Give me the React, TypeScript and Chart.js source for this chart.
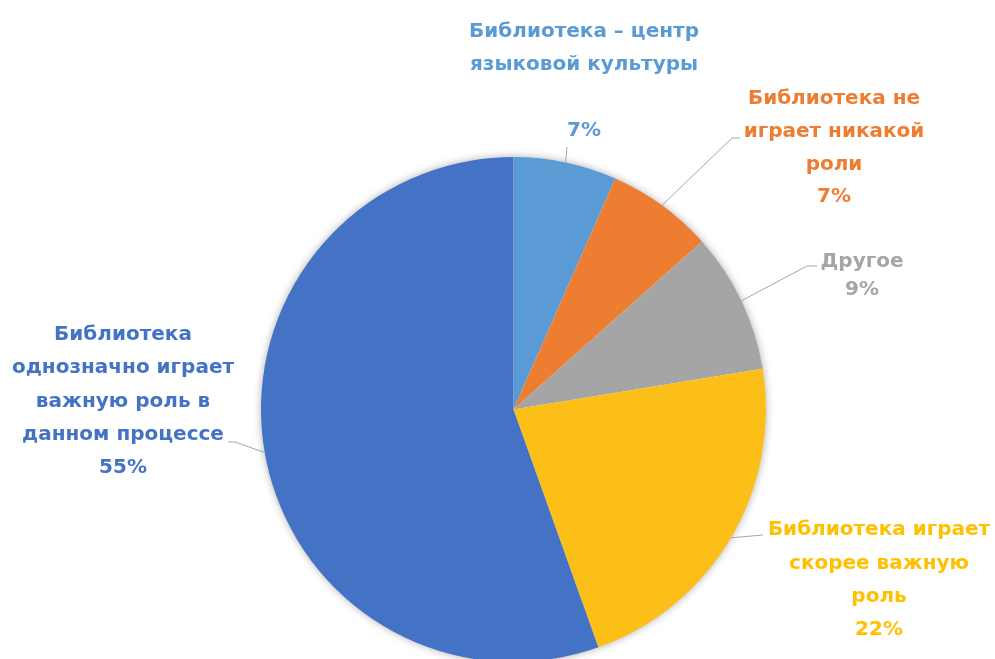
import React, { useEffect, useRef } from "react";
import { Chart, registerables } from "chart.js";

Chart.register(...registerables);

const categories: string[] = [
  "Библиотека – центр языковой культуры",
  "Библиотека не играет никакой роли",
  "Другое",
  "Библиотека играет скорее важную роль",
  "Библиотека однозначно играет важную роль в данном процессе",
];

// share of answers, %
const shares: number[] = [6.6, 6.8, 9.0, 22.1, 55.4];

const sliceColors: string[] = ["#5B9BD5", "#ED7D31", "#A5A5A5", "#FCBF17", "#4472C4"];
const textColors: string[] = ["#5B9BD5", "#ED7D31", "#A5A5A5", "#FFC000", "#4472C4"];

// wrapped category text for each label
const labelLines: string[][] = [
  ["Библиотека – центр", "языковой культуры", ""],
  ["Библиотека не", "играет никакой", "роли"],
  ["Другое"],
  ["Библиотека играет", "скорее важную", "роль"],
  ["Библиотека", "однозначно играет", "важную роль в", "данном процессе"],
];

// label layout (pixels): block centre x, first line y, line gap, leader waypoints
const labelLayout = [
  { cx: 584, y0: 32, gap: 33, leader: [[567, 147]] },
  { cx: 834, y0: 99, gap: 32.7, leader: [[732, 138], [740, 138]] },
  { cx: 862, y0: 262, gap: 28, leader: [[807, 266], [817, 266]] },
  { cx: 879, y0: 530, gap: 33.3, leader: [[763, 535]] },
  { cx: 123, y0: 335, gap: 33.2, leader: [[235, 442], [228, 442]] },
];

const FONT = "bold 20px 'DejaVu Sans', sans-serif";

const shadowPlugin = {
  id: "pieShadow",
  beforeDatasetsDraw(chart: any) {
    const arc = chart.getDatasetMeta(0).data[0];
    if (!arc) return;
    const ctx = chart.ctx;
    ctx.save();
    ctx.shadowColor = "rgba(0,0,0,0.35)";
    ctx.shadowBlur = 9;
    ctx.beginPath();
    ctx.arc(arc.x, arc.y, arc.outerRadius - 0.5, 0, Math.PI * 2);
    ctx.fillStyle = "#ffffff";
    ctx.fill();
    ctx.restore();
  },
};

const labelPlugin = {
  id: "pieLabels",
  afterDatasetsDraw(chart: any) {
    const meta = chart.getDatasetMeta(0);
    const data = chart.data.datasets[0].data as number[];
    const total = data.reduce((a, b) => a + b, 0);
    const ctx = chart.ctx;
    ctx.save();
    meta.data.forEach((arc: any, i: number) => {
      const mid = (arc.startAngle + arc.endAngle) / 2;
      const sx = arc.x + Math.cos(mid) * arc.outerRadius;
      const sy = arc.y + Math.sin(mid) * arc.outerRadius;
      const lay = labelLayout[i];
      ctx.beginPath();
      ctx.strokeStyle = "#A6A6A6";
      ctx.lineWidth = 1;
      ctx.moveTo(sx, sy);
      lay.leader.forEach((p) => ctx.lineTo(p[0], p[1]));
      ctx.stroke();

      const pct = Math.round((data[i] / total) * 100) + "%";
      const lines = [...labelLines[i], pct];
      ctx.font = FONT;
      ctx.fillStyle = textColors[i];
      ctx.textAlign = "center";
      ctx.textBaseline = "middle";
      lines.forEach((t, k) => {
        if (t) ctx.fillText(t, lay.cx, lay.y0 + k * lay.gap);
      });
    });
    ctx.restore();
  },
};

export default function App() {
  const ref = useRef<HTMLCanvasElement | null>(null);
  useEffect(() => {
    document.body.style.margin = "0";
    const canvas = ref.current!;
    const chart = new Chart(canvas, {
      type: "pie",
      data: {
        labels: categories,
        datasets: [
          {
            data: shares,
            backgroundColor: sliceColors,
            borderWidth: 0,
          },
        ],
      },
      options: {
        responsive: false,
        animation: false,
        devicePixelRatio: 1,
        layout: { padding: { left: 261, right: 229, top: 157, bottom: 8 } },
        plugins: {
          legend: { display: false },
          tooltip: { enabled: false },
        },
      },
      plugins: [shadowPlugin, labelPlugin],
    });
    return () => chart.destroy();
  }, []);
  return (
    <div style={{ position: "absolute", left: 0, top: 0, width: 995, height: 659, overflow: "hidden", background: "#fff" }}>
      <canvas ref={ref} width={995} height={670} style={{ display: "block" }} />
    </div>
  );
}
